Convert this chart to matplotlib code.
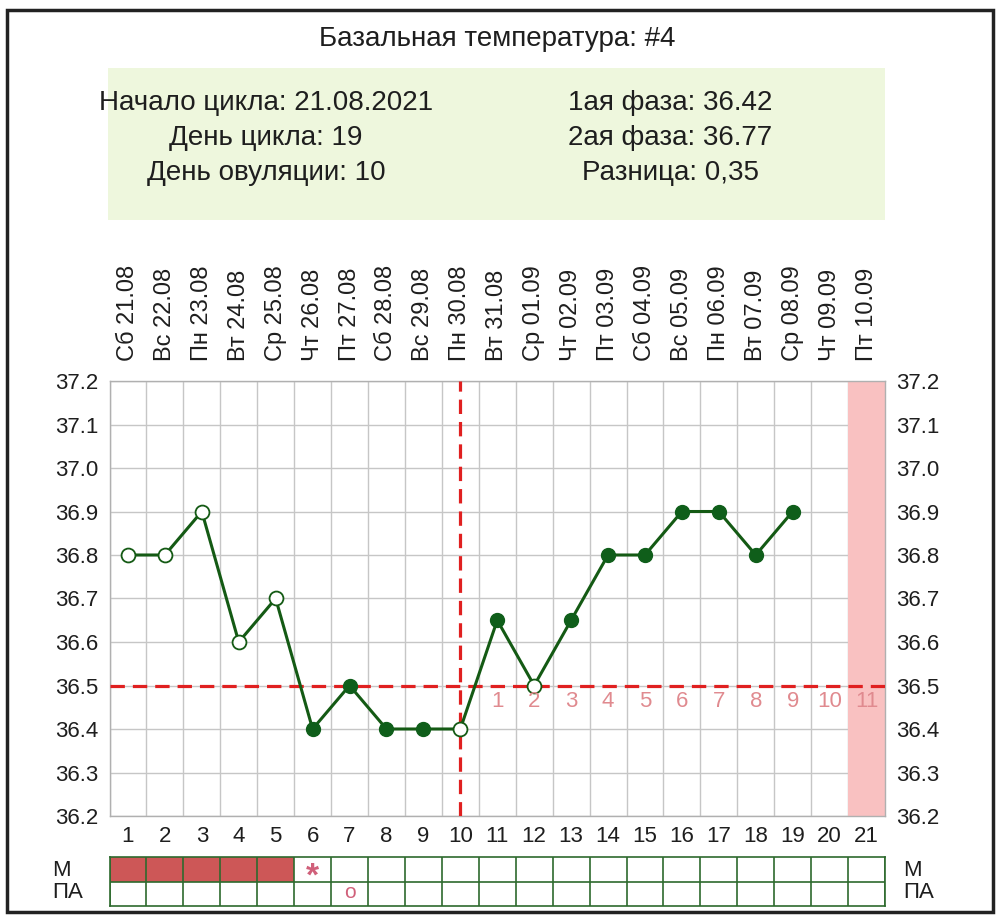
import matplotlib
matplotlib.use("Agg")
from matplotlib import pyplot as plt
from matplotlib.patches import Rectangle

# данные графика
days = list(range(1, 22))
weekdays = ['Сб', 'Вс', 'Пн', 'Вт', 'Ср', 'Чт', 'Пт', 'Сб', 'Вс', 'Пн', 'Вт',
            'Ср', 'Чт', 'Пт', 'Сб', 'Вс', 'Пн', 'Вт', 'Ср', 'Чт', 'Пт']
dates = ['21.08', '22.08', '23.08', '24.08', '25.08', '26.08', '27.08', '28.08',
         '29.08', '30.08', '31.08', '01.09', '02.09', '03.09', '04.09', '05.09',
         '06.09', '07.09', '08.09', '09.09', '10.09']
temp_days = list(range(1, 20))
temps = [36.8, 36.8, 36.9, 36.6, 36.7, 36.4, 36.5, 36.4, 36.4, 36.4,
         36.65, 36.5, 36.65, 36.8, 36.8, 36.9, 36.9, 36.8, 36.9]
open_days = [1, 2, 3, 4, 5, 10, 12]
ovulation_day = 10
cover_line = 36.5
phase2_days = list(range(11, 22))
phase2_labels = [str(i) for i in range(1, 12)]
today = 21
m_days = [1, 2, 3, 4, 5]
m_marks = {6: '*'}
pa_marks = {7: 'o'}

title = 'Базальная температура: #4'
info_left = ['Начало цикла: 21.08.2021', 'День цикла: 19', 'День овуляции: 10']
info_right = ['1ая фаза: 36.42', '2ая фаза: 36.77', 'Разница: 0,35']

W, H = 1000, 919
plt.rcParams['font.family'] = ['Liberation Sans', 'DejaVu Sans']
TXT = '#1e1e1e'


def fx(px):
    return px / W


def fy(py):
    return 1 - py / H


fig = plt.figure(figsize=(W / 100, H / 100), dpi=100, facecolor='white')

# внешняя рамка
fig.patches.append(Rectangle((fx(7), fy(912)), fx(993) - fx(7), fy(10) - fy(912),
                             transform=fig.transFigure, fill=False,
                             edgecolor='#222222', linewidth=2.5))

fig.text(fx(497), fy(39), title, ha='center', va='center', fontsize=20, color=TXT)

# инфо-блок
fig.patches.append(Rectangle((fx(108), fy(220)), fx(885) - fx(108), fy(68) - fy(220),
                             transform=fig.transFigure, facecolor='#eef7dd',
                             edgecolor='none', zorder=0))
for i, s in enumerate(info_left):
    fig.text(fx(266), fy(103 + 35 * i), s, ha='center', va='center', fontsize=20, color=TXT)
for i, s in enumerate(info_right):
    fig.text(fx(670), fy(103 + 35 * i), s, ha='center', va='center', fontsize=20, color=TXT)

# основной график
left, right, top, bottom = 109.5, 885, 381, 816
ax = fig.add_axes([fx(left), fy(bottom), fx(right) - fx(left), fy(top) - fy(bottom)])
ax.set_xlim(0.5, 21.5)
ax.set_ylim(36.2, 37.2)

yt = [round(36.2 + 0.1 * i, 1) for i in range(11)]
ax.set_yticks(yt)
ax.set_yticklabels(['%.1f' % v for v in yt])
ax.set_xticks(days)
ax.set_xticklabels([str(d) for d in days])
ax.set_xticks([d + 0.5 for d in range(0, 22)], minor=True)
ax.tick_params(axis='both', which='both', length=0)
ax.tick_params(axis='y', labelsize=16, labelright=True, pad=8, labelcolor=TXT)
ax.tick_params(axis='x', labelsize=16, pad=7, labelcolor=TXT)
ax.grid(True, which='minor', axis='x', color='#c6c6c6', linewidth=1)
ax.grid(True, which='major', axis='y', color='#c6c6c6', linewidth=1)
ax.set_axisbelow(True)
for sp in ax.spines.values():
    sp.set_color('#b0b0b0')
    sp.set_linewidth(1)

ax.axvspan(today - 0.5, today + 0.5, color='#f9c1c1', zorder=1, linewidth=0)

ax.axhline(cover_line, color='#e02020', linestyle=(0, (4.5, 2.5)), linewidth=2.3, zorder=3)
ax.axvline(ovulation_day, color='#e02020', linestyle=(0, (4.5, 2.5)), linewidth=2.3, zorder=3)

ax.plot(temp_days, temps, color='#145a14', linewidth=2.2, zorder=4)
filled_x = [d for d in temp_days if d not in open_days]
filled_y = [temps[temp_days.index(d)] for d in filled_x]
open_x = [d for d in temp_days if d in open_days]
open_y = [temps[temp_days.index(d)] for d in open_x]
ax.plot(filled_x, filled_y, 'o', color='#0f5e1a', markersize=10, zorder=5)
ax.plot(open_x, open_y, 'o', markerfacecolor='white', markeredgecolor='#145a14',
        markeredgewidth=1.3, markersize=10, zorder=5)

for d, s in zip(phase2_days, phase2_labels):
    ax.text(d, cover_line - 0.012, s, ha='center', va='top', fontsize=16, color='#e08a8f', zorder=6)

for d, wd, dt in zip(days, weekdays, dates):
    ax.text(d, 37.2 + 0.047, wd + ' ' + dt, rotation=90, ha='center', va='bottom',
            fontsize=17, color=TXT)

# строки М / ПА
ax2 = fig.add_axes([fx(left), fy(906), fx(right) - fx(left), fy(857) - fy(906)])
ax2.set_xlim(0.5, 21.5)
ax2.set_ylim(0, 2)
ax2.bar(m_days, 1, bottom=1, width=1, color='#cd5757', linewidth=0, zorder=1)
ax2.set_xticks([d + 0.5 for d in range(0, 22)], minor=True)
ax2.set_xticks([])
ax2.set_yticks([1], minor=True)
ax2.set_yticks([])
ax2.grid(True, which='minor', color='#2e6a2e', linewidth=1.2)
ax2.set_axisbelow(False)
ax2.tick_params(which='both', length=0)
for sp in ax2.spines.values():
    sp.set_color('#2e6a2e')
    sp.set_linewidth(1.2)
for d, s in m_marks.items():
    ax2.text(d, 1.2, s, ha='center', va='center', fontsize=24, fontweight='bold',
             color='#d0607a', zorder=3)
for d, s in pa_marks.items():
    ax2.text(d, 0.55, s, ha='center', va='center', fontsize=15, color='#d0607a', zorder=3)

for lbl, yy in [('М', 870), ('ПА', 893)]:
    fig.text(fx(52), fy(yy), lbl, ha='left', va='center', fontsize=16, color=TXT)
    fig.text(fx(903), fy(yy), lbl, ha='left', va='center', fontsize=16, color=TXT)

fig.savefig('out.png', dpi=100, facecolor='white')
